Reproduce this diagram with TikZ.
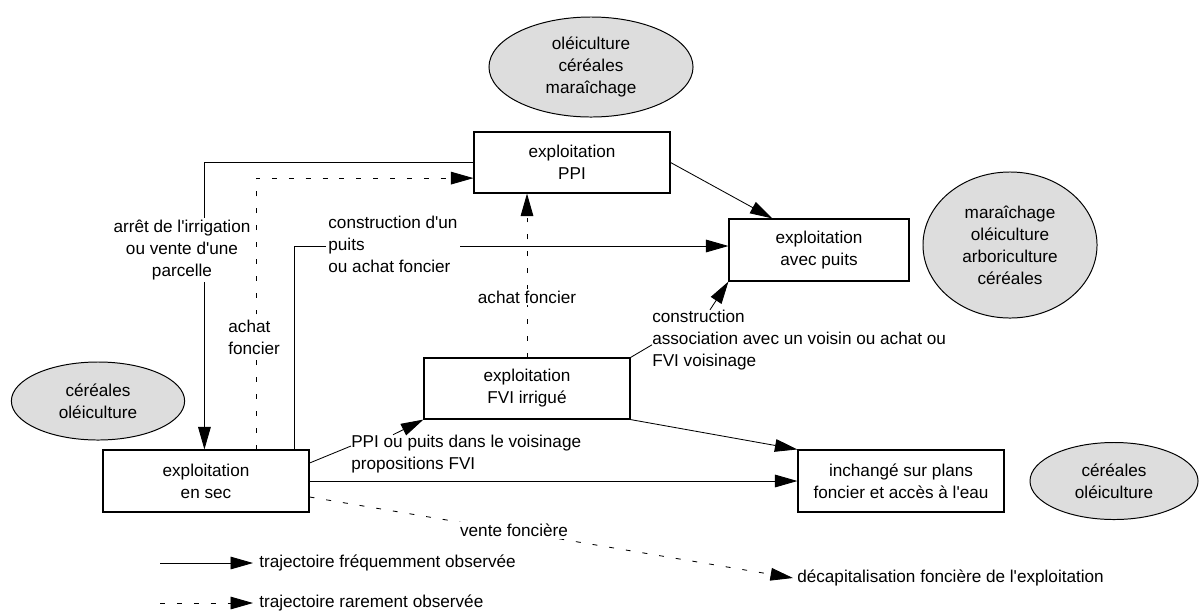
\documentclass[tikz,border=0pt]{standalone}
\usepackage{fontspec}
\setmainfont{Liberation Sans}
\usetikzlibrary{shapes.geometric,arrows.meta,calc}
\definecolor{ellfill}{RGB}{221,221,221}
\newcommand{\apos}{\XeTeXglyph\XeTeXcharglyph"0027\relax}
\begin{document}
\begin{tikzpicture}[x=0.025cm,y=-0.025cm,
  every node/.style={font=\fontsize{12.2}{15.6}\selectfont},
  box/.style={draw, line width=0.8pt, inner sep=0pt, align=center},
  crop/.style={ellipse, draw, fill=ellfill, line width=0.7pt, inner sep=0pt, align=center},
  lbl/.style={fill=white, inner sep=1.5pt},
  txt/.style={inner sep=0pt, anchor=west, align=left},
  arr/.style={line width=0.6pt, -{Triangle[length=16pt,width=9pt]}},
  ln/.style={line width=0.6pt},
  dsh/.style={dash pattern=on 3.5pt off 8.5pt},
]
\useasboundingbox (0,0) rectangle (1201,614);

% crops
\node[crop, minimum width=5.1cm, minimum height=2.5cm] (e1) at (591,67) {oléiculture\\céréales\\maraîchage};
\node[crop, minimum width=4.35cm, minimum height=3.65cm] (e2) at (1010,245) {maraîchage\\oléiculture\\arboriculture\\céréales};
\node[crop, minimum width=4.33cm, minimum height=1.95cm] (e3) at (98,401) {céréales\\oléiculture};
\node[crop, minimum width=4.2cm, minimum height=1.925cm] (e4) at (1114,481) {céréales\\oléiculture};

% farm states
\node[box, minimum width=4.9cm, minimum height=1.525cm] (ppi) at (572,162.5) {exploitation\\PPI};
\node[box, minimum width=4.5cm, minimum height=1.55cm] (puits) at (819,250) {exploitation\\avec puits};
\node[box, minimum width=5.15cm, minimum height=1.525cm] (fvi) at (527,388.5) {exploitation\\FVI irrigué};
\node[box, minimum width=5.15cm, minimum height=1.55cm] (ensec) at (206,481) {exploitation\\en sec};
\node[box, minimum width=5.15cm, minimum height=1.55cm] (inch) at (901,481) {inchangé sur plans\\foncier et accès à l\apos eau};

% plain labels
\node[txt] (l6) at (652,340) {construction\\association avec un voisin ou achat ou\\FVI voisinage};
\node[txt] (l7) at (351,454) {PPI ou puits dans le voisinage\\propositions FVI};
\node[txt] (dec) at (797,578) {décapitalisation foncière de l\apos exploitation};

% legend
\coordinate (g1) at (160,563);
\coordinate (g2) at (160,603);
\node[txt] (t1) at (259,563) {trajectoire fréquemment observée};
\node[txt] (t2) at (259,603) {trajectoire rarement observée};

% connectors
\draw[arr] (ppi.west) -| ([xshift=2.55cm]ensec.north west);
\draw[arr,dsh] ([xshift=3.85cm]ensec.north west) |- ([yshift=-0.39cm]ppi.west);
\draw[arr] ([xshift=4.8cm]ensec.north west) |- ([yshift=0.1cm]puits.west);
\draw[arr,dsh] (fvi.north) -- (fvi.north |- ppi.south);
\draw[arr] (ppi.east) -- ([xshift=1.1cm]puits.north west);
\draw[ln] (fvi.north east) -- ([yshift=-0.12cm]l6.west);
\draw[arr] ([xshift=1.45cm]l6.north west) -- (puits.south west);
\draw[ln] ([yshift=0.45cm]ensec.east) -- ([yshift=0.2cm]l7.west);
\draw[arr] ([xshift=1.05cm]l7.north west) -- (fvi.south west);
\draw[arr] (fvi.south east) -- (inch.north west);
\draw[arr] (ensec.east) -- (inch.west);
\draw[arr,dsh] ([yshift=-0.4cm]ensec.east) -- ([xshift=-0.1cm]dec.west);
\draw[arr] (g1) -- ([xshift=-0.15cm]t1.west);
\draw[arr,dsh] (g2) -- ([xshift=-0.15cm]t2.west);

% labels cutting the connectors
\node[lbl, align=center] (l1) at (182,250) {arrêt de l\apos irrigation\\ou vente d\apos une\\parcelle};
\node[lbl, align=left, anchor=west] (l2) at (226,337) {achat\\foncier};
\node[lbl, align=left, anchor=west] (l3) at (326,244) {construction d\apos un\\puits\\ou achat foncier};
\node[lbl] (l4) at (527,297) {achat foncier};
\node[lbl] (l10) at (514,530) {vente foncière};
\end{tikzpicture}
\end{document}
